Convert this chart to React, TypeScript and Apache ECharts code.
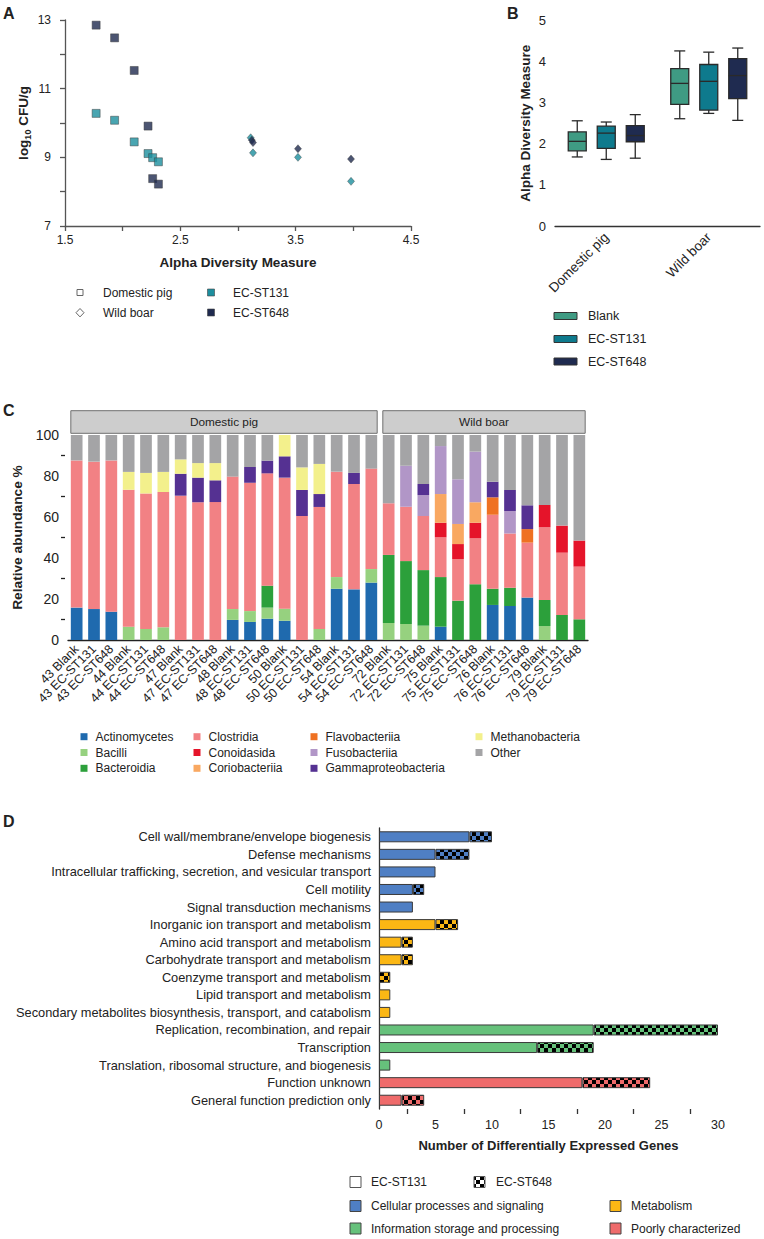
import React, { useEffect, useRef } from 'react';
import * as echarts from 'echarts';

const FONT = '"Liberation Sans", Arial, Helvetica, sans-serif';
const TXT = '#222';

// ---------- Panel A ----------
const aDomesticST131 = [[1.77, 10.28], [1.93, 10.08], [2.10, 9.45], [2.22, 9.11], [2.26, 8.99], [2.31, 8.87]];
const aDomesticST648 = [[1.77, 12.85], [1.93, 12.48], [2.10, 11.53], [2.22, 9.91], [2.26, 8.38], [2.31, 8.22]];
const aWildST131 = [[3.11, 9.57], [3.13, 9.13], [3.52, 9.0], [3.98, 8.30]];
const aWildST648 = [[3.12, 9.50], [3.13, 9.43], [3.52, 9.25], [3.98, 8.95]];

// ---------- Panel B ----------
const bGroups = ['Domestic pig', 'Wild boar'];
// [min, Q1, median, Q3, max]
const bBlank = [[1.68, 1.83, 2.06, 2.29, 2.56], [2.61, 2.96, 3.47, 3.83, 4.26]];
const bST131 = [[1.62, 1.89, 2.26, 2.43, 2.53], [2.74, 2.82, 3.52, 3.93, 4.23]];
const bST648 = [[1.65, 2.05, 2.20, 2.44, 2.71], [2.57, 3.10, 3.66, 4.07, 4.33]];

// ---------- Panel C ----------
const cSamples = [
  '43 Blank', '43 EC-ST131', '43 EC-ST648', '44 Blank', '44 EC-ST131', '44 EC-ST648',
  '47 Blank', '47 EC-ST131', '47 EC-ST648', '48 Blank', '48 EC-ST131', '48 EC-ST648',
  '50 Blank', '50 EC-ST131', '50 EC-ST648', '54 Blank', '54 EC-ST131', '54 EC-ST648',
  '72 Blank', '72 EC-ST131', '72 EC-ST648', '75 Blank', '75 EC-ST131', '75 EC-ST648',
  '76 Blank', '76 EC-ST131', '76 EC-ST648', '79 Blank', '79 EC-ST131', '79 EC-ST648',
];
const cActinomycetes = [15.8, 15.1, 13.8, 0, 0, 0, 0, 0, 0, 9.8, 8.8, 10.4, 9.4, 0, 0, 25.0, 24.7, 28.0, 0, 0, 0, 6.5, 0, 0, 17.1, 16.6, 20.7, 0, 0, 0];
const cBacilli = [0, 0, 0, 6.5, 5.4, 6.2, 0, 0, 0, 5.3, 5.3, 5.4, 5.9, 0, 5.4, 5.7, 0, 6.6, 8.3, 7.8, 7.0, 0, 0, 0, 0, 0, 0, 6.8, 0, 0];
const cBacteroidia = [0, 0, 0, 0, 0, 0, 0, 0, 0, 0, 0, 10.7, 0, 0, 0, 0, 0, 0, 33.2, 30.7, 27.1, 24.2, 19.2, 27.2, 7.9, 8.9, 0, 12.7, 12.2, 10.1];
const cClostridia = [71.8, 71.9, 73.8, 66.8, 66.1, 66.0, 70.4, 67.2, 67.3, 64.6, 62.6, 54.8, 63.9, 60.5, 59.5, 51.4, 51.4, 49.0, 25.2, 26.5, 26.4, 19.4, 20.3, 22.4, 36.1, 26.5, 26.8, 35.5, 30.4, 25.7];
const cConoidasida = [0, 0, 0, 0, 0, 0, 0, 0, 0, 0, 0, 0, 0, 0, 0, 0, 0, 0, 0, 0, 0, 7.1, 7.3, 7.6, 0, 0, 0, 10.9, 13.2, 12.7];
const cCoriobacteriia = [0, 0, 0, 0, 0, 0, 0, 0, 0, 0, 0, 0, 0, 0, 0, 0, 0, 0, 0, 0, 0, 14.0, 9.8, 10.0, 0, 0, 0, 0, 0, 0];
const cFlavobacteriia = [0, 0, 0, 0, 0, 0, 0, 0, 0, 0, 0, 0, 0, 0, 0, 0, 0, 0, 0, 0, 0, 0, 0, 0, 8.5, 0, 6.6, 0, 0, 0];
const cFusobacteriia = [0, 0, 0, 0, 0, 0, 0, 0, 0, 0, 0, 0, 0, 0, 0, 0, 0, 0, 0, 20.0, 10.2, 23.4, 21.8, 24.7, 0, 10.9, 0, 0, 0, 0];
const cGammaproteobacteria = [0, 0, 0, 0, 0, 0, 10.7, 12.0, 10.6, 0, 7.7, 6.2, 10.4, 12.7, 6.3, 0, 5.4, 0, 0, 0, 5.4, 0, 0, 0, 7.6, 10.3, 11.6, 0, 0, 0];
const cMethanobacteria = [0, 0, 0, 8.7, 10.0, 9.8, 7.0, 7.1, 8.4, 0, 0, 0, 10.4, 11.0, 14.7, 0, 0, 0, 0, 0, 0, 0, 0, 0, 0, 0, 0, 0, 0, 0];
const cOther = [12.4, 13.0, 12.4, 18.0, 18.5, 18.0, 11.9, 13.7, 13.7, 20.3, 15.6, 12.5, 0, 15.8, 14.1, 17.9, 18.5, 16.4, 33.3, 15.0, 23.9, 5.4, 21.6, 8.1, 22.8, 26.8, 34.3, 34.1, 44.2, 51.5];
const cFacets = ['Domestic pig', 'Wild boar'];
const cFacetSizes = [18, 12];

const cClasses = [
  { name: 'Actinomycetes', data: cActinomycetes, color: '#1f6aae' },
  { name: 'Bacilli', data: cBacilli, color: '#96d17f' },
  { name: 'Bacteroidia', data: cBacteroidia, color: '#2ca03b' },
  { name: 'Clostridia', data: cClostridia, color: '#f28184' },
  { name: 'Conoidasida', data: cConoidasida, color: '#e5142a' },
  { name: 'Coriobacteriia', data: cCoriobacteriia, color: '#f9a861' },
  { name: 'Flavobacteriia', data: cFlavobacteriia, color: '#ef7122' },
  { name: 'Fusobacteriia', data: cFusobacteriia, color: '#b196c7' },
  { name: 'Gammaproteobacteria', data: cGammaproteobacteria, color: '#553192' },
  { name: 'Methanobacteria', data: cMethanobacteria, color: '#f3f08c' },
  { name: 'Other', data: cOther, color: '#a4a4a6' },
];

// ---------- Panel D ----------
const dCategories = [
  'Cell wall/membrane/envelope biogenesis',
  'Defense mechanisms',
  'Intracellular trafficking, secretion, and vesicular transport',
  'Cell motility',
  'Signal transduction mechanisms',
  'Inorganic ion transport and metabolism',
  'Amino acid transport and metabolism',
  'Carbohydrate transport and metabolism',
  'Coenzyme transport and metabolism',
  'Lipid transport and metabolism',
  'Secondary metabolites biosynthesis, transport, and catabolism',
  'Replication, recombination, and repair',
  'Transcription',
  'Translation, ribosomal structure, and biogenesis',
  'Function unknown',
  'General function prediction only',
];
const dGroupOf = ['cell', 'cell', 'cell', 'cell', 'cell', 'met', 'met', 'met', 'met', 'met', 'met', 'info', 'info', 'info', 'poor', 'poor'];
const dST131 = [8, 5, 5, 3, 3, 5, 2, 2, 0, 1, 1, 19, 14, 1, 18, 2];
const dST648 = [2, 3, 0, 1, 0, 2, 1, 1, 1, 0, 0, 11, 5, 0, 6, 2];
const dGroupNames = {
  cell: 'Cellular processes and signaling',
  met: 'Metabolism',
  info: 'Information storage and processing',
  poor: 'Poorly characterized',
};
const dGroupColors: Record<string, string> = { cell: '#4f7fc4', met: '#fbb714', info: '#66c17b', poor: '#ef6b6b' };

function checker(bg: string) {
  const cv = document.createElement('canvas');
  cv.width = 8;
  cv.height = 8;
  const ctx = cv.getContext('2d')!;
  ctx.fillStyle = bg;
  ctx.fillRect(0, 0, 8, 8);
  ctx.fillStyle = '#000';
  ctx.fillRect(0, 0, 4, 4);
  ctx.fillRect(4, 4, 4, 4);
  return { image: cv, repeat: 'repeat', imageWidth: 8, imageHeight: 8 } as any;
}

function boxSeries(name: string, data: number[][], color: string, offset: number) {
  return {
    type: 'custom',
    name,
    xAxisIndex: 1,
    yAxisIndex: 1,
    data: data.map((d, i) => [i, ...d]),
    encode: { x: 0, y: [1, 2, 3, 4, 5] },
    renderItem: (params: any, api: any) => {
      const c = api.value(0);
      const cx = api.coord([c, 0])[0] + offset;
      const y = [1, 2, 3, 4, 5].map((k) => api.coord([c, api.value(k)])[1]);
      const hw = 9;
      const cap = 5.5;
      const st = { stroke: '#2a2a2a', lineWidth: 1.3 };
      return {
        type: 'group',
        children: [
          { type: 'line', shape: { x1: cx, y1: y[4], x2: cx, y2: y[3] }, style: st },
          { type: 'line', shape: { x1: cx, y1: y[1], x2: cx, y2: y[0] }, style: st },
          { type: 'line', shape: { x1: cx - cap, y1: y[4], x2: cx + cap, y2: y[4] }, style: st },
          { type: 'line', shape: { x1: cx - cap, y1: y[0], x2: cx + cap, y2: y[0] }, style: st },
          { type: 'rect', shape: { x: cx - hw, y: y[3], width: hw * 2, height: y[1] - y[3] }, style: { fill: color, stroke: '#2a2a2a', lineWidth: 1.3 } },
          { type: 'line', shape: { x1: cx - hw, y1: y[2], x2: cx + hw, y2: y[2] }, style: st },
        ],
      };
    },
  };
}

function txt(text: string, x: number, y: number, size: number, opts: any = {}) {
  return {
    type: 'text',
    style: {
      text,
      x,
      y,
      fill: opts.fill || TXT,
      fontSize: size,
      fontWeight: opts.bold ? 'bold' : 'normal',
      fontFamily: FONT,
      align: opts.align || 'left',
      verticalAlign: 'middle',
    },
  };
}

function buildOption() {
  const axisBase = (color: string) => ({
    axisLine: { lineStyle: { color, width: 1.3 } },
    axisTick: { lineStyle: { color, width: 1.3 }, length: 5 },
    splitLine: { show: false },
    axisLabel: { color: TXT, fontFamily: FONT },
  });

  // Panel C geometry
  const cLeft = 68, cWidth = 520, cSlot = cWidth / cSamples.length, cBarW = 11.7;
  const cPad = (cSlot - cBarW) / 2;

  const tealA = '#1c8e9e', navyA = '#1f2a4f';
  const bColors = ['#3f9b83', '#0e7a8d', '#1f2b50'];

  const patterns: Record<string, any> = {};
  Object.keys(dGroupColors).forEach((k) => (patterns[k] = checker(dGroupColors[k])));
  const legendChecker = checker('#ffffff');

  const graphic: any[] = [];
  // panel letters
  graphic.push(txt('A', 3, 13, 16, { bold: true }));
  graphic.push(txt('B', 507, 13, 16, { bold: true }));
  graphic.push(txt('C', 3, 410, 16, { bold: true }));
  graphic.push(txt('D', 3, 821, 16, { bold: true }));

  // A legend
  graphic.push({ type: 'rect', shape: { x: 77, y: 289.5, width: 6, height: 6 }, style: { fill: '#fff', stroke: '#666', lineWidth: 1 } });
  graphic.push({ type: 'polygon', shape: { points: [[80, 308.5], [84, 312.7], [80, 316.9], [76, 312.7]] }, style: { fill: '#fff', stroke: '#666', lineWidth: 1 } });
  graphic.push({ type: 'rect', shape: { x: 207.5, y: 289, width: 7, height: 7 }, style: { fill: tealA, stroke: '#444', lineWidth: 0.6 } });
  graphic.push({ type: 'rect', shape: { x: 207.5, y: 309, width: 7, height: 7 }, style: { fill: navyA, stroke: '#444', lineWidth: 0.6 } });
  graphic.push(txt('Domestic pig', 103, 292.7, 12));
  graphic.push(txt('Wild boar', 103, 312.7, 12));
  graphic.push(txt('EC-ST131', 233, 292.7, 12));
  graphic.push(txt('EC-ST648', 233, 312.7, 12));

  // B legend
  const bNames = ['Blank', 'EC-ST131', 'EC-ST648'];
  const bRows = [316, 339, 361.5];
  bNames.forEach((n, i) => {
    graphic.push({ type: 'rect', shape: { x: 554, y: bRows[i] - 3.5, width: 23, height: 7 }, style: { fill: bColors[i], stroke: '#333', lineWidth: 1 } });
    graphic.push(txt(n, 588, bRows[i], 12.5));
  });

  // C facet strips
  let start = 0;
  cFacets.forEach((f, i) => {
    const x0 = cLeft + start * cSlot + cPad;
    const x1 = cLeft + (start + cFacetSizes[i]) * cSlot - cPad;
    graphic.push({ type: 'rect', shape: { x: x0, y: 410.7, width: x1 - x0, height: 22.6 }, style: { fill: '#cdcdcd', stroke: '#6f6f6f', lineWidth: 1 } });
    graphic.push(txt(f, (x0 + x1) / 2, 422, 11.8, { align: 'center' }));
    start += cFacetSizes[i];
  });

  // C legend (column-major, 3 rows)
  const cColX = [84, 197, 314, 479];
  const cRowY = [736.7, 752.5, 768.3];
  cClasses.forEach((c, i) => {
    const col = Math.floor(i / 3), row = i % 3;
    graphic.push({ type: 'rect', shape: { x: cColX[col] - 3.5, y: cRowY[row] - 3.5, width: 7, height: 7 }, style: { fill: c.color } });
    graphic.push(txt(c.name, cColX[col] + 11.5, cRowY[row], 12));
  });

  // D legend
  graphic.push({ type: 'rect', shape: { x: 350, y: 1176.5, width: 11, height: 11 }, style: { fill: '#fff', stroke: '#555', lineWidth: 1 } });
  graphic.push(txt('EC-ST131', 371, 1182, 12));
  graphic.push({ type: 'rect', shape: { x: 474, y: 1176.5, width: 11, height: 11 }, style: { fill: legendChecker, stroke: '#555', lineWidth: 1 } });
  graphic.push(txt('EC-ST648', 496, 1182, 12));
  const dLeg = [
    { k: 'cell', x: 350, y: 1206 },
    { k: 'met', x: 610, y: 1206 },
    { k: 'info', x: 350, y: 1228.5 },
    { k: 'poor', x: 610, y: 1228.5 },
  ];
  dLeg.forEach((l) => {
    graphic.push({ type: 'rect', shape: { x: l.x, y: l.y - 5.5, width: 11, height: 11 }, style: { fill: dGroupColors[l.k], stroke: '#444', lineWidth: 1 } });
    graphic.push(txt((dGroupNames as any)[l.k], l.x + 21, l.y, 12));
  });

  return {
    animation: false,
    textStyle: { fontFamily: FONT, color: TXT },
    graphic,
    grid: [
      { left: 65, top: 20, width: 346, height: 206 },
      { left: 555, top: 20.5, width: 205, height: 205.5 },
      { left: cLeft, top: 435, width: cWidth, height: 205 },
      { left: 379, top: 828, width: 339, height: 281 },
    ],
    xAxis: [
      {
        gridIndex: 0, type: 'value', min: 1.5, max: 4.5, interval: 1,
        ...axisBase('#555'),
        axisLabel: { color: TXT, fontFamily: FONT, fontSize: 12, margin: 8, formatter: (v: number) => v.toFixed(1) },
        minorTick: { show: true, splitNumber: 2, length: 5, lineStyle: { color: '#555', width: 1.3 } },
        name: 'Alpha Diversity Measure', nameLocation: 'middle', nameGap: 29,
        nameTextStyle: { fontSize: 13.5, fontWeight: 'bold', color: TXT, fontFamily: FONT },
      },
      {
        gridIndex: 1, type: 'category', data: bGroups,
        ...axisBase('#333'),
        axisTick: { alignWithLabel: true, length: 6, lineStyle: { color: '#333', width: 1.3 } },
        axisLabel: { color: TXT, fontFamily: FONT, fontSize: 13.5, rotate: 45, margin: 9 },
      },
      {
        gridIndex: 2, type: 'category', data: cSamples,
        ...axisBase('#222'),
        axisTick: { alignWithLabel: true, length: 5, lineStyle: { color: '#222', width: 1.3 } },
        axisLabel: { color: TXT, fontFamily: FONT, fontSize: 12.5, rotate: 45, margin: 7, interval: 0 },
      },
      {
        gridIndex: 3, type: 'value', min: 0, max: 30, interval: 5,
        ...axisBase('#333'),
        axisLabel: { color: TXT, fontFamily: FONT, fontSize: 12.5, margin: 9 },
        minorTick: { show: true, splitNumber: 2, length: 5, lineStyle: { color: '#333', width: 1.3 } },
        name: 'Number of Differentially Expressed Genes', nameLocation: 'middle', nameGap: 30,
        nameTextStyle: { fontSize: 13, fontWeight: 'bold', color: TXT, fontFamily: FONT },
      },
    ],
    yAxis: [
      {
        gridIndex: 0, type: 'value', min: 7, max: 13, interval: 2,
        ...axisBase('#555'),
        axisLabel: { color: TXT, fontFamily: FONT, fontSize: 12, margin: 14 },
        minorTick: { show: true, splitNumber: 2, length: 5, lineStyle: { color: '#555', width: 1.3 } },
        name: '{b|log}{s|10}{b| CFU/g}', nameLocation: 'middle', nameGap: 33,
        nameTextStyle: {
          color: TXT, fontFamily: FONT,
          rich: {
            b: { fontSize: 13.5, fontWeight: 'bold', fontFamily: FONT, color: TXT, lineHeight: 18, verticalAlign: 'middle' },
            s: { fontSize: 9, fontWeight: 'bold', fontFamily: FONT, color: TXT, lineHeight: 18, verticalAlign: 'bottom', padding: [0, 0, 0, 0] },
          },
        },
      },
      {
        gridIndex: 1, type: 'value', min: 0, max: 5, interval: 1,
        ...axisBase('#333'),
        axisTick: { length: 6, lineStyle: { color: '#333', width: 1.3 } },
        axisLabel: { color: TXT, fontFamily: FONT, fontSize: 13, margin: 9 },
        name: 'Alpha Diversity Measure', nameLocation: 'middle', nameGap: 23,
        nameTextStyle: { fontSize: 13.5, fontWeight: 'bold', color: TXT, fontFamily: FONT },
      },
      {
        gridIndex: 2, type: 'value', min: 0, max: 100, interval: 20, offset: 3,
        ...axisBase('#222'),
        axisLabel: { color: TXT, fontFamily: FONT, fontSize: 14, margin: 6 },
        minorTick: { show: true, splitNumber: 2, length: 4, lineStyle: { color: '#222', width: 1.3 } },
        name: 'Relative abundance %', nameLocation: 'middle', nameGap: 38,
        nameTextStyle: { fontSize: 13.7, fontWeight: 'bold', color: TXT, fontFamily: FONT },
      },
      {
        gridIndex: 3, type: 'category', data: dCategories, inverse: true,
        ...axisBase('#333'),
        axisTick: { alignWithLabel: true, length: 6, lineStyle: { color: '#333', width: 1.3 } },
        axisLabel: { color: TXT, fontFamily: FONT, fontSize: 12.8, margin: 8, interval: 0 },
      },
    ],
    series: [
      {
        type: 'scatter', name: 'Domestic EC-ST131', xAxisIndex: 0, yAxisIndex: 0, data: aDomesticST131,
        symbol: 'rect', symbolSize: 8, itemStyle: { color: tealA, borderColor: '#3a3a3a', borderWidth: 0.6 },
      },
      {
        type: 'scatter', name: 'Domestic EC-ST648', xAxisIndex: 0, yAxisIndex: 0, data: aDomesticST648,
        symbol: 'rect', symbolSize: 8, itemStyle: { color: navyA, borderColor: '#3a3a3a', borderWidth: 0.6 },
      },
      {
        type: 'scatter', name: 'Wild EC-ST131', xAxisIndex: 0, yAxisIndex: 0, data: aWildST131,
        symbol: 'diamond', symbolSize: [7, 8], itemStyle: { color: tealA, borderColor: '#3a3a3a', borderWidth: 0.5 },
      },
      {
        type: 'scatter', name: 'Wild EC-ST648', xAxisIndex: 0, yAxisIndex: 0, data: aWildST648,
        symbol: 'diamond', symbolSize: [7, 8], itemStyle: { color: navyA, borderColor: '#3a3a3a', borderWidth: 0.5 },
      },
      boxSeries('Blank', bBlank, bColors[0], -29),
      boxSeries('EC-ST131', bST131, bColors[1], 0),
      boxSeries('EC-ST648', bST648, bColors[2], 29),
      ...cClasses.map((c) => ({
        type: 'bar', name: c.name, stack: 'c', xAxisIndex: 2, yAxisIndex: 2,
        data: c.data, barWidth: cBarW, itemStyle: { color: c.color },
      })),
      {
        type: 'bar', name: 'EC-ST131', stack: 'd', xAxisIndex: 3, yAxisIndex: 3, barWidth: 11,
        data: dST131.map((v, i) => (v === 0 ? '-' : { value: v, itemStyle: { color: dGroupColors[dGroupOf[i]] } })),
        itemStyle: { borderColor: '#3a3a3a', borderWidth: 1 },
      },
      {
        type: 'bar', name: 'EC-ST648', stack: 'd', xAxisIndex: 3, yAxisIndex: 3, barWidth: 11,
        data: dST648.map((v, i) => (v === 0 ? '-' : { value: v, itemStyle: { color: patterns[dGroupOf[i]] } })),
        itemStyle: { borderColor: '#3a3a3a', borderWidth: 1 },
      },
    ],
  };
}

export default function App() {
  const ref = useRef<HTMLDivElement>(null);
  useEffect(() => {
    document.body.style.margin = '0';
    const chart = echarts.init(ref.current!, null, { renderer: 'svg' });
    chart.setOption(buildOption() as any);
    return () => chart.dispose();
  }, []);
  return <div ref={ref} style={{ width: 764, height: 1239 }} />;
}
